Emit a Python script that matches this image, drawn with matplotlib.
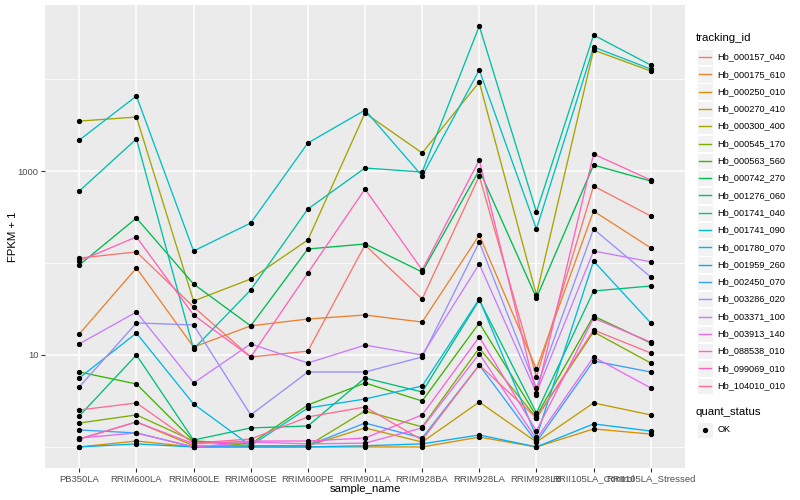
import numpy as np
import matplotlib
matplotlib.use("Agg")
import matplotlib.pyplot as plt
from matplotlib.ticker import FixedLocator, NullFormatter
from matplotlib.patches import Rectangle
from matplotlib.lines import Line2D

plt.rcParams['font.family'] = ['Liberation Sans', 'DejaVu Sans']

sample_names = ["PB350LA", "RRIM600LA", "RRIM600LE", "RRIM600SE", "RRIM600PE",
                "RRIM901LA", "RRIM928BA", "RRIM928LA", "RRIM928LB",
                "RRII105LA_Control", "RRII105LA_Stressed"]

tracking_ids = ["Hb_000157_040", "Hb_000175_610", "Hb_000250_010", "Hb_000270_410",
                "Hb_000300_400", "Hb_000545_170", "Hb_000563_560", "Hb_000742_270",
                "Hb_001276_060", "Hb_001741_040", "Hb_001741_090", "Hb_001780_070",
                "Hb_001959_260", "Hb_002450_070", "Hb_003286_020", "Hb_003371_100",
                "Hb_003913_140", "Hb_088538_010", "Hb_099069_010", "Hb_104010_010"]

# FPKM + 1 values, in sample_names order
hb_000157_040 = [113, 132, 33.3, 9.51, 11.0, 157, 40.6, 883, 5.77, 687, 324]
hb_000175_610 = [16.9, 88.2, 12.2, 20.7, 24.6, 27.2, 22.8, 201, 7.04, 367, 146]
hb_000250_010 = [1.0, 1.16, 1.0, 1.0, 1.0, 1.0, 1.0, 1.28, 1.0, 1.57, 1.38]
hb_000270_410 = [1.22, 1.87, 1.03, 1.03, 1.03, 1.61, 1.13, 3.08, 1.13, 3.01, 2.23]
hb_000300_400 = [3490, 3860, 38.6, 67.0, 178, 4270, 1570, 9270, 44.9, 20650, 12220]
hb_000545_170 = [1.82, 2.23, 1.16, 1.03, 1.03, 2.46, 1.65, 11.9, 2.07, 17.8, 8.18]
hb_000563_560 = [6.53, 4.84, 1.16, 1.08, 2.86, 4.96, 3.16, 22.3, 2.17, 26.5, 13.5]
hb_000742_270 = [95.1, 308, 59.1, 20.7, 142, 161, 79.8, 1025, 41.7, 1162, 779]
hb_001276_060 = [2.17, 10.0, 1.19, 1.61, 1.69, 5.62, 3.96, 39.6, 2.34, 49.6, 56.2]
hb_001741_040 = [606, 2230, 11.6, 50.9, 386, 1078, 975, 37670, 358, 30070, 14190]
hb_001741_090 = [2170, 6530, 135, 272, 2015, 4600, 883, 12530, 234, 22280, 12850]
hb_001780_070 = [5.62, 17.3, 2.93, 1.03, 2.65, 3.32, 4.60, 40.6, 1.28, 105, 22.3]
hb_001959_260 = [1.0, 1.08, 1.0, 1.0, 1.0, 1.03, 1.08, 1.35, 1.0, 1.78, 1.49]
hb_002450_070 = [1.53, 1.42, 1.0, 1.03, 1.03, 1.82, 1.25, 7.78, 1.13, 8.61, 6.53]
hb_003286_020 = [4.49, 22.3, 21.2, 2.23, 6.53, 6.53, 9.51, 169, 4.38, 234, 70.4]
hb_003371_100 = [13.2, 29.3, 4.96, 13.2, 8.18, 12.8, 10.0, 97.5, 3.86, 135, 103]
hb_003913_140 = [1.25, 1.42, 1.0, 1.13, 1.08, 1.10, 1.61, 10.3, 1.22, 9.51, 4.38]
hb_088538_010 = [1.22, 1.87, 1.08, 1.16, 1.16, 1.25, 2.23, 15.7, 1.49, 25.2, 13.8]
hb_099069_010 = [105, 192, 27.2, 9.51, 77.8, 637, 84.0, 1318, 3.67, 1530, 798]
hb_104010_010 = [2.52, 3.01, 1.10, 1.22, 2.12, 2.72, 1.19, 7.78, 2.07, 18.7, 10.5]

series = [hb_000157_040, hb_000175_610, hb_000250_010, hb_000270_410, hb_000300_400,
          hb_000545_170, hb_000563_560, hb_000742_270, hb_001276_060, hb_001741_040,
          hb_001741_090, hb_001780_070, hb_001959_260, hb_002450_070, hb_003286_020,
          hb_003371_100, hb_003913_140, hb_088538_010, hb_099069_010, hb_104010_010]

quant_status = ["OK"]

colors = ["#F8766D", "#EA8331", "#D89000", "#C09B00", "#A3A500", "#7CAE00", "#39B600",
          "#00BB4E", "#00BF7D", "#00C1A3", "#00BFC4", "#00BAE0", "#00B0F6", "#35A2FF",
          "#9590FF", "#C77CFF", "#E76BF3", "#FA62DB", "#FF62BC", "#FF6C91"]

W, H = 800, 500
fig = plt.figure(figsize=(8, 5), dpi=100)
fig.patch.set_facecolor("white")
pl, pr, pt, pb = 45, 685, 5, 468
ax = fig.add_axes([pl / W, 1 - pb / H, (pr - pl) / W, (pb - pt) / H])
ax.set_facecolor("#EBEBEB")
for s in ax.spines.values():
    s.set_visible(False)

x = np.arange(1, len(sample_names) + 1)
for vals, c in zip(series, colors):
    ax.plot(x, vals, color=c, lw=0.95, zorder=3, solid_capstyle='round')
for vals in series:
    ax.plot(x, vals, linestyle='none', marker='o', markersize=2.8,
            color='black', zorder=4)

ax.set_yscale('log')
allv = np.concatenate([np.asarray(v, float) for v in series])
lo, hi = np.log10(allv.min()), np.log10(allv.max())
pad = 0.05 * (hi - lo)
ax.set_ylim(10 ** (lo - pad), 10 ** (hi + pad))
ax.set_xlim(0.4, len(sample_names) + 0.6)

ax.set_xticks(x)
ax.set_xticklabels(sample_names)
ax.yaxis.set_major_locator(FixedLocator([10, 1000]))
ax.set_yticklabels(["10", "1000"])
ax.yaxis.set_minor_locator(FixedLocator([1, 100, 10000]))
ax.yaxis.set_minor_formatter(NullFormatter())
ax.xaxis.set_minor_locator(FixedLocator([]))

ax.grid(True, which='major', color='white', lw=1.1, zorder=0)
ax.grid(True, which='minor', axis='y', color='white', lw=0.55, zorder=0)
ax.set_axisbelow(True)
ax.tick_params(axis='both', which='major', length=2.8, width=0.8, color='#333333',
               labelcolor='#4D4D4D', labelsize=6.8, pad=2)
ax.tick_params(axis='y', which='minor', length=0)

ax.set_xlabel("sample_name", fontsize=8.2, color='black')
ax.set_ylabel("FPKM + 1", fontsize=8.2, color='black')
ax.xaxis.set_label_coords(0.5, -(489 - pb) / (pb - pt))
ax.yaxis.set_label_coords(-(pl - 13) / (pr - pl), 0.5)
ax.xaxis.label.set_va('center')
ax.yaxis.label.set_va('center')

# legends drawn in pixel coordinates
lax = fig.add_axes([0, 0, 1, 1])
lax.set_xlim(0, W)
lax.set_ylim(H, 0)
lax.axis('off')

lax.text(696, 38, "tracking_id", fontsize=8.2, ha='left', va='center', color='black')
y0, dy = 57, 17.3
for i, (tid, c) in enumerate(zip(tracking_ids, colors)):
    yc = y0 + dy * i
    lax.add_patch(Rectangle((696.5, yc - 8.2), 16.5, 16.4, facecolor='#F2F2F2',
                            edgecolor='white', lw=0.8))
    lax.add_line(Line2D([698.5, 711], [yc, yc], color=c, lw=1.0))
    lax.text(717.5, yc, tid, fontsize=6.6, ha='left', va='center', color='black')

lax.text(696, 412, "quant_status", fontsize=8.2, ha='left', va='center', color='black')
yc = 430
lax.add_patch(Rectangle((696.5, yc - 8.2), 16.5, 16.4, facecolor='#F2F2F2',
                        edgecolor='white', lw=0.8))
lax.plot([704.7], [yc], marker='o', markersize=2.8, color='black', linestyle='none')
lax.text(717.5, yc, quant_status[0], fontsize=6.6, ha='left', va='center', color='black')

fig.savefig("out.png", dpi=100)
